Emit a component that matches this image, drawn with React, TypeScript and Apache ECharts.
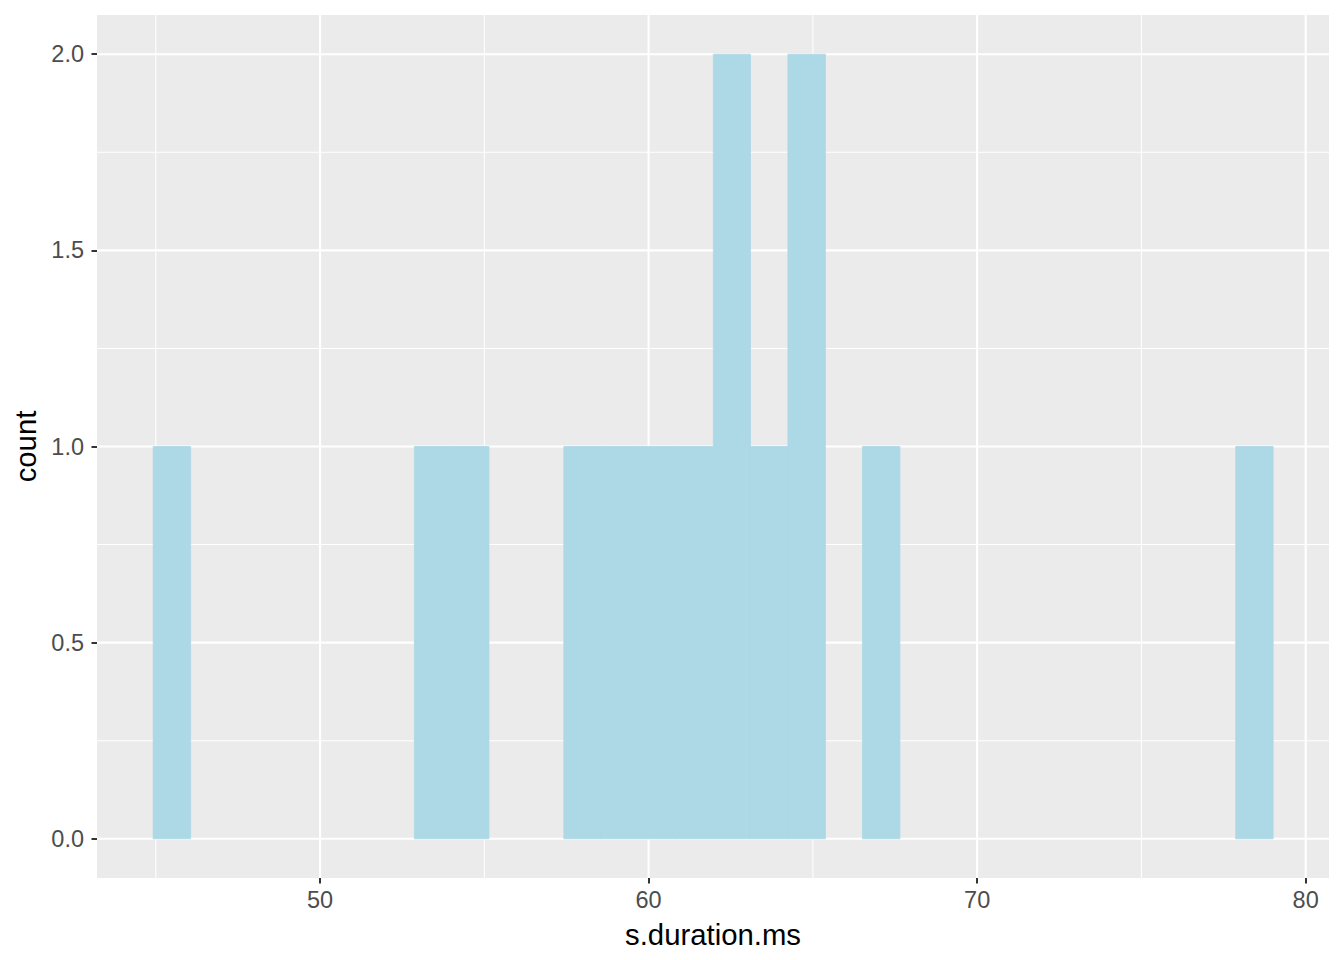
import React, { useEffect, useRef } from "react";
import * as echarts from "echarts";

// Histogram bins (non-empty)
const binLeft = [44.92, 52.87, 54.01, 57.42, 58.56, 59.69, 60.83, 61.97, 63.10, 64.24, 66.51, 77.87];
const binRight = [46.06, 54.01, 55.14, 58.56, 59.69, 60.83, 61.97, 63.10, 64.24, 65.38, 67.65, 79.01];
const counts = [1, 1, 1, 1, 1, 1, 1, 2, 1, 2, 1, 1];

const xTicks = [50, 60, 70, 80];
const xMinor = [45, 55, 65, 75];
const yTicks = [0, 0.5, 1.0, 1.5, 2.0];
const yMinor = [0.25, 0.75, 1.25, 1.75];

const X_MIN = 43.21;
const X_MAX = 80.71;
const Y_MIN = -0.1;
const Y_MAX = 2.1;

const FONT = "'Liberation Sans', Arial, Helvetica, sans-serif";

export default function App() {
  const ref = useRef<HTMLDivElement>(null);
  useEffect(() => {
    if (!ref.current) return;
    const chart = echarts.init(ref.current, undefined, { renderer: "svg" });

    const gridData: any[] = [];
    xTicks.forEach((v) => gridData.push([v, 0, 1]));
    xMinor.forEach((v) => gridData.push([v, 0, 0]));
    yTicks.forEach((v) => gridData.push([v, 1, 1]));
    yMinor.forEach((v) => gridData.push([v, 1, 0]));

    const barData = binLeft.map((l, i) => [l, binRight[i], counts[i]]);

    chart.setOption({
      animation: false,
      backgroundColor: "#FFFFFF",
      grid: {
        left: 97,
        right: 15,
        top: 15,
        bottom: 82,
        show: true,
        backgroundColor: "#EBEBEB",
        borderWidth: 0,
      },
      xAxis: {
        type: "value",
        min: X_MIN,
        max: X_MAX,
        axisLine: { show: false, onZero: false },
        splitLine: { show: false },
        axisTick: {
          show: true,
          customValues: xTicks,
          length: 5.5,
          lineStyle: { color: "#333333", width: 2 },
        },
        axisLabel: {
          customValues: xTicks,
          color: "#4D4D4D",
          fontSize: 23.5,
          fontFamily: FONT,
          margin: 10,
          formatter: (v: number) => String(v),
        },
        name: "s.duration.ms",
        nameLocation: "middle",
        nameGap: 42,
        nameTextStyle: { color: "#000000", fontSize: 29.3, fontFamily: FONT },
      },
      yAxis: {
        type: "value",
        min: Y_MIN,
        max: Y_MAX,
        axisLine: { show: false, onZero: false },
        splitLine: { show: false },
        axisTick: {
          show: true,
          customValues: yTicks,
          length: 5.5,
          lineStyle: { color: "#333333", width: 2 },
        },
        axisLabel: {
          customValues: yTicks,
          color: "#4D4D4D",
          fontSize: 23.5,
          fontFamily: FONT,
          margin: 13,
          formatter: (v: number) => v.toFixed(1),
        },
        name: "count",
        nameLocation: "middle",
        nameRotate: 90,
        nameGap: 55,
        nameTextStyle: { color: "#000000", fontSize: 29.3, fontFamily: FONT },
      },
      series: [
        {
          type: "custom",
          silent: true,
          z: 1,
          clip: true,
          data: gridData,
          renderItem: (params: any, api: any) => {
            const v = api.value(0);
            const horiz = api.value(1);
            const major = api.value(2);
            let p1, p2;
            if (horiz) {
              p1 = api.coord([X_MIN, v]);
              p2 = api.coord([X_MAX, v]);
            } else {
              p1 = api.coord([v, Y_MIN]);
              p2 = api.coord([v, Y_MAX]);
            }
            return {
              type: "line",
              shape: { x1: p1[0], y1: p1[1], x2: p2[0], y2: p2[1] },
              style: { stroke: "#FFFFFF", lineWidth: major ? 2.1 : 1.05 },
            };
          },
        },
        {
          type: "custom",
          z: 2,
          data: barData,
          renderItem: (params: any, api: any) => {
            const p0 = api.coord([api.value(0), 0]);
            const p1 = api.coord([api.value(1), api.value(2)]);
            return {
              type: "rect",
              shape: { x: p0[0], y: p1[1], width: p1[0] - p0[0], height: p0[1] - p1[1] },
              style: { fill: "#ADD8E6", stroke: "#ADD8E6", lineWidth: 0.8 },
            };
          },
        },
      ],
    });
    return () => chart.dispose();
  }, []);
  return (
    <div
      ref={ref}
      style={{ position: "fixed", left: 0, top: 0, width: 1344, height: 960 }}
    />
  );
}
